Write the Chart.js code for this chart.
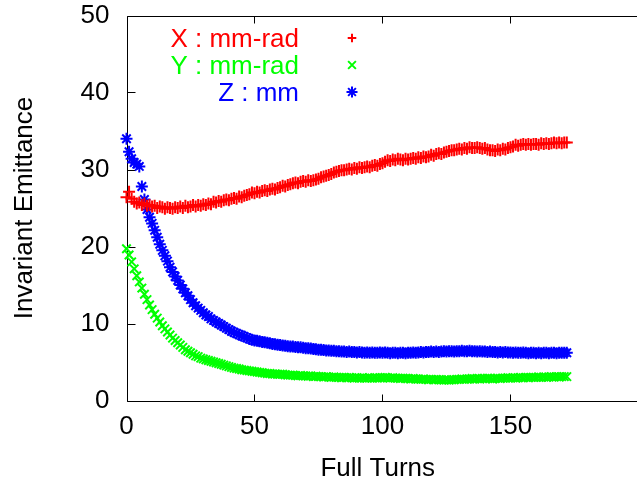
<!DOCTYPE html>
<html>
<head>
<meta charset="utf-8">
<script src="https://cdn.jsdelivr.net/npm/chart.js@4/dist/chart.umd.min.js"></script>
<style>
  html, body { margin: 0; padding: 0; background: #fff; }
</style>
</head>
<body>
<canvas id="emittance" width="637" height="479"></canvas>
<script>
// ======= data (one value per full turn) =======
const xEmit = [
  26.4, 27.1, 26.2, 25.8, 25.6, 25.7, 25.4, 25.6, 25.3, 25.4,
  25.2, 25.3, 25.0, 25.2, 25.1, 24.9, 25.1, 25.0, 24.9, 25.1,
  25.0, 25.2, 25.0, 25.3, 25.1, 25.2, 25.4, 25.2, 25.4, 25.3,
  25.5, 25.4, 25.6, 25.5, 25.8, 25.7, 25.9, 25.8, 26.0, 26.1,
  26.0, 26.2, 26.3, 26.2, 26.5, 26.4, 26.6, 26.7, 26.8, 27.0,
  26.9, 27.1, 27.0, 27.2, 27.3, 27.2, 27.4, 27.5, 27.4, 27.6,
  27.7, 27.9, 27.8, 28.0, 28.1, 28.2, 28.3, 28.2, 28.4, 28.5,
  28.4, 28.6, 28.5, 28.6, 28.7, 28.8, 29.0, 29.1, 29.2, 29.3,
  29.4, 29.6, 29.7, 29.8, 29.9, 29.9, 30.0, 30.1, 30.0, 30.2,
  30.1, 30.3, 30.2, 30.3, 30.4, 30.3, 30.5, 30.6, 30.5, 30.7,
  30.8, 31.0, 31.2, 31.1, 31.3, 31.2, 31.4, 31.3, 31.2, 31.4,
  31.3, 31.4, 31.5, 31.4, 31.6, 31.5, 31.7, 31.6, 31.7, 31.9,
  31.8, 32.0, 32.1, 32.0, 32.2, 32.3, 32.4, 32.5, 32.5, 32.6,
  32.7, 32.6, 32.8, 32.7, 32.9, 32.8, 32.8, 32.9, 32.8, 32.7,
  32.8, 32.6, 32.5, 32.5, 32.4, 32.6, 32.5, 32.7, 32.6, 32.8,
  32.9, 33.0, 33.2, 33.1, 33.2, 33.3, 33.2, 33.3, 33.2, 33.3,
  33.3, 33.2, 33.4, 33.3, 33.4, 33.3, 33.4, 33.5, 33.4, 33.5,
  33.4, 33.5, 33.5
];
const yEmit = [
  19.7, 18.9, 18.0, 17.1, 16.2, 15.4, 14.6, 13.8, 13.1, 12.4,
  11.8, 11.2, 10.7, 10.2, 9.7, 9.3, 8.9, 8.5, 8.1, 7.8,
  7.5, 7.2, 6.9, 6.6, 6.4, 6.2, 6.0, 5.8, 5.7, 5.5,
  5.4, 5.3, 5.2, 5.1, 5.0, 4.9, 4.8, 4.7, 4.6, 4.5,
  4.4, 4.3, 4.2, 4.15, 4.1, 4.0, 3.95, 3.9, 3.85, 3.8,
  3.75, 3.7, 3.65, 3.6, 3.55, 3.5, 3.5, 3.45, 3.45, 3.4,
  3.4, 3.4, 3.35, 3.3, 3.3, 3.3, 3.25, 3.2, 3.25, 3.2,
  3.2, 3.15, 3.2, 3.1, 3.15, 3.1, 3.1, 3.05, 3.1, 3.05,
  3.0, 3.05, 3.0, 3.0, 2.95, 3.0, 2.95, 3.0, 2.95, 2.9,
  2.95, 2.9, 2.95, 2.9, 2.9, 2.95, 2.9, 2.95, 2.9, 2.95,
  2.95, 3.0, 2.95, 2.9, 2.95, 2.9, 2.9, 2.85, 2.9, 2.85,
  2.85, 2.8, 2.85, 2.8, 2.8, 2.75, 2.8, 2.75, 2.7, 2.75,
  2.7, 2.75, 2.7, 2.7, 2.65, 2.7, 2.65, 2.7, 2.7, 2.75,
  2.75, 2.8, 2.75, 2.8, 2.8, 2.85, 2.8, 2.85, 2.8, 2.85,
  2.85, 2.9, 2.85, 2.8, 2.85, 2.9, 2.85, 2.9, 2.9, 2.95,
  2.9, 2.95, 2.9, 2.95, 3.0, 2.95, 3.0, 2.95, 3.0, 3.0,
  3.0, 3.05, 3.0, 3.05, 3.0, 3.05, 3.1, 3.05, 3.1, 3.05,
  3.1, 3.1, 3.1
];
const zEmit = [
  34.0, 32.3, 31.4, 30.9, 30.7, 30.4, 27.8, 26.1, 24.8, 23.8,
  23.0, 22.1, 21.2, 20.3, 19.5, 18.8, 18.1, 17.3, 16.7, 16.1,
  15.6, 15.0, 14.5, 14.0, 13.6, 13.1, 12.7, 12.3, 12.0, 11.7,
  11.4, 11.1, 10.9, 10.6, 10.4, 10.2, 10.0, 9.8, 9.6, 9.4,
  9.2, 9.0, 8.85, 8.7, 8.55, 8.4, 8.3, 8.15, 8.0, 7.9,
  7.8, 7.75, 7.7, 7.6, 7.55, 7.5, 7.45, 7.35, 7.3, 7.25,
  7.2, 7.15, 7.1, 7.05, 7.0, 7.0, 6.95, 6.9, 6.9, 6.85,
  6.8, 6.8, 6.75, 6.7, 6.65, 6.6, 6.6, 6.55, 6.5, 6.5,
  6.45, 6.45, 6.4, 6.4, 6.35, 6.35, 6.3, 6.35, 6.3, 6.3,
  6.25, 6.3, 6.25, 6.2, 6.25, 6.2, 6.25, 6.2, 6.2, 6.25,
  6.2, 6.25, 6.2, 6.15, 6.2, 6.2, 6.15, 6.2, 6.2, 6.15,
  6.2, 6.2, 6.25, 6.2, 6.25, 6.3, 6.25, 6.3, 6.3, 6.35,
  6.3, 6.35, 6.3, 6.35, 6.4, 6.35, 6.4, 6.4, 6.35, 6.4,
  6.4, 6.45, 6.4, 6.4, 6.45, 6.4, 6.4, 6.35, 6.4, 6.35,
  6.35, 6.3, 6.35, 6.3, 6.3, 6.25, 6.3, 6.25, 6.3, 6.25,
  6.25, 6.2, 6.25, 6.2, 6.2, 6.25, 6.2, 6.15, 6.2, 6.2,
  6.15, 6.2, 6.15, 6.2, 6.2, 6.15, 6.2, 6.2, 6.15, 6.2,
  6.2, 6.2, 6.2
];
// full turn number for each sample
const turns = xEmit.map((_, i) => i);

const seriesLabels = ['X : mm-rad', 'Y : mm-rad', 'Z : mm'];
const xTicks = [0, 50, 100, 150];
const yTicks = [0, 10, 20, 30, 40, 50];

const FONT = '"Liberation Sans", Arial, Helvetica, sans-serif';

function points(values) {
  return turns.map((t, i) => ({ x: t, y: values[i] }));
}

// gnuplot-like frame with inward tick marks (right side is cut off)
const frame = {
  id: 'frame',
  beforeDatasetsDraw(chart) {
    const { ctx, chartArea: a, scales } = chart;
    const top = Math.round(a.top) + 0.5;
    const bottom = Math.round(a.bottom) + 0.5;
    const left = Math.round(a.left) + 0.5;
    ctx.save();
    ctx.strokeStyle = '#000';
    ctx.lineWidth = 1;
    ctx.beginPath();
    ctx.moveTo(chart.width, top);
    ctx.lineTo(left, top);
    ctx.lineTo(left, bottom);
    ctx.lineTo(chart.width, bottom);
    xTicks.forEach(v => {
      const px = Math.round(scales.x.getPixelForValue(v)) + 0.5;
      ctx.moveTo(px, bottom); ctx.lineTo(px, bottom - 7);
      ctx.moveTo(px, top); ctx.lineTo(px, top + 7);
    });
    yTicks.forEach(v => {
      const py = Math.round(scales.y.getPixelForValue(v)) + 0.5;
      ctx.moveTo(left, py); ctx.lineTo(left + 8, py);
    });
    ctx.stroke();
    ctx.restore();
  }
};

// key in the top-left corner: text right-aligned, marker to the right
const keyBox = {
  id: 'keyBox',
  afterDraw(chart) {
    const ctx = chart.ctx;
    ctx.save();
    ctx.font = '26px ' + FONT;
    ctx.textAlign = 'right';
    ctx.textBaseline = 'alphabetic';
    chart.data.datasets.forEach((ds, i) => {
      const base = 46.5 + i * 27;
      ctx.fillStyle = ds.borderColor;
      ctx.strokeStyle = ds.borderColor;
      ctx.fillText(ds.label, 299, base);
      Chart.helpers.drawPoint(ctx, {
        pointStyle: ds.pointStyle,
        radius: ds.pointStyle === 'cross' ? 4.3 : 5.5,
        borderWidth: 1,
        rotation: 0
      }, 352, base - 8.5);
    });
    ctx.restore();
  }
};

const colors = ['#ff0000', '#00ff00', '#0000ff'];
const styles = ['cross', 'crossRot', 'star'];
const series = [xEmit, yEmit, zEmit];

const chart = new Chart(document.getElementById('emittance'), {
  type: 'scatter',
  data: {
    datasets: series.map((vals, i) => ({
      label: seriesLabels[i],
      data: points(vals),
      pointStyle: styles[i],
      borderColor: colors[i],
      backgroundColor: colors[i],
      pointRadius: 6,
      borderWidth: 2,
      clip: false
    }))
  },
  options: {
    responsive: false,
    animation: false,
    layout: { padding: { top: 15.5, right: 0, left: 0, bottom: 0 } },
    plugins: {
      legend: { display: false },
      tooltip: { enabled: false }
    },
    scales: {
      x: {
        type: 'linear',
        min: 0,
        max: 196.3,
        afterBuildTicks: s => { s.ticks = xTicks.map(v => ({ value: v })); },
        afterFit: s => {
          s.height = 78.5;
          s.paddingLeft = 0; s.paddingRight = 0;
        },
        grid: { display: false, drawTicks: false },
        border: { display: false },
        ticks: { color: '#000', padding: 11, font: { family: FONT, size: 26 } },
        title: {
          display: true,
          text: 'Full Turns',
          color: '#000',
          padding: 0,
          font: { family: FONT, size: 26, lineHeight: 0.8 }
        }
      },
      y: {
        min: 0,
        max: 50,
        afterBuildTicks: s => { s.ticks = yTicks.map(v => ({ value: v })); },
        afterFit: s => {
          s.width = 126.5;
          s.paddingTop = 0; s.paddingBottom = 0;
        },
        grid: { display: false, drawTicks: false },
        border: { display: false },
        ticks: { color: '#000', padding: 17, font: { family: FONT, size: 26 } },
        title: {
          display: true,
          text: 'Invariant Emittance',
          color: '#000',
          padding: { top: 9, bottom: 0 },
          font: { family: FONT, size: 26, lineHeight: 1.2 }
        }
      }
    }
  },
  plugins: [frame, keyBox]
});

// the plot area should run to the right edge of the picture
const gap = chart.width - chart.chartArea.right;
if (gap > 0.5) {
  chart.options.layout.padding.right = -gap;
  chart.update();
}
</script>
</body>
</html>
